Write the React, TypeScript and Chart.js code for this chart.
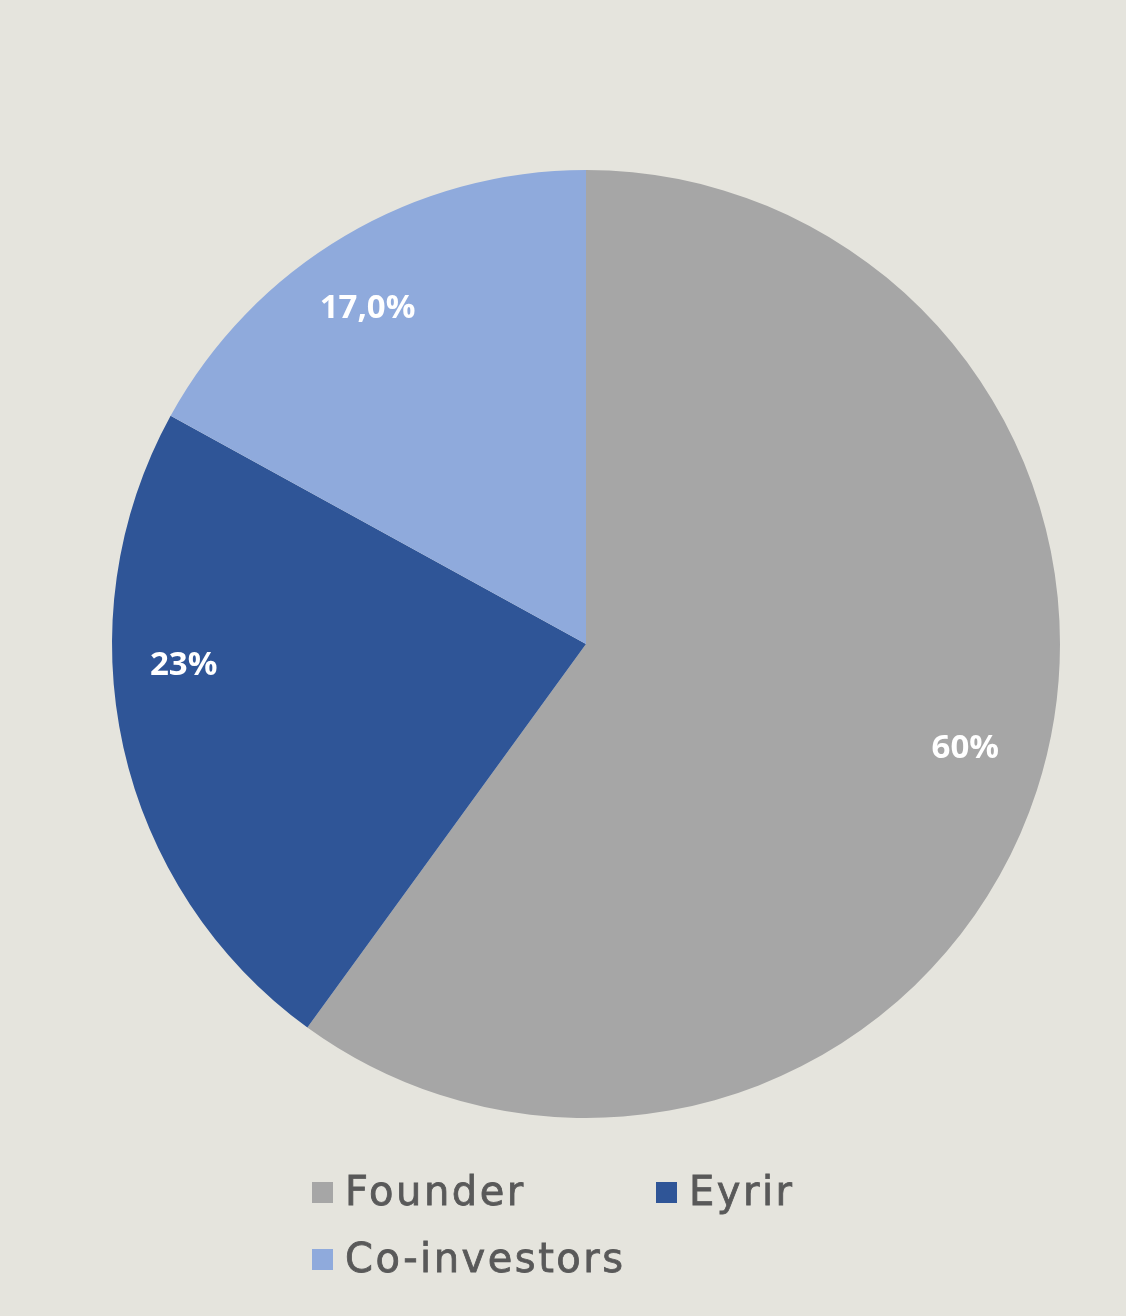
import React, { useEffect, useRef } from "react";
import { Chart, registerables } from "chart.js";

Chart.register(...registerables);

const categories = ["Founder", "Eyrir", "Co-investors"];
const shares = [60, 23, 17];
const valueLabels = ["60%", "23%", "17,0%"];
const sliceColors = ["#A6A6A6", "#2F5597", "#8FAADC"];

const BG = "#E5E4DD";

const labelPlugin = {
  id: "sliceLabels",
  afterDatasetsDraw(chart: any) {
    const ctx = chart.ctx;
    const meta = chart.getDatasetMeta(0);
    const along = [0.488, 0.615, 0.46];
    const radial = [0.83, 0.85, 0.845];
    ctx.save();
    ctx.fillStyle = "#FFFFFF";
    ctx.font = "bold 33px 'Open Sans'";
    ctx.textAlign = "center";
    ctx.textBaseline = "middle";
    meta.data.forEach((arc: any, i: number) => {
      const p = arc.getProps(["x", "y", "startAngle", "endAngle", "outerRadius"], true);
      const a = p.startAngle + along[i] * (p.endAngle - p.startAngle);
      const r = p.outerRadius * radial[i];
      ctx.fillText(valueLabels[i], p.x + Math.cos(a) * r, p.y + Math.sin(a) * r);
    });
    ctx.restore();
  },
};

const legendPlugin = {
  id: "gridLegend",
  afterDraw(chart: any) {
    const ctx = chart.ctx;
    const x0 = 312;
    const colW = 344;
    const rowBase = [1205, 1272];
    const box = 21;
    ctx.save();
    ctx.font = "40px 'DejaVu Sans'";
    (ctx as any).letterSpacing = "2.5px";
    ctx.textBaseline = "alphabetic";
    ctx.textAlign = "left";
    ctx.lineWidth = 0.8;
    categories.forEach((c, i) => {
      const col = i % 2;
      const row = Math.floor(i / 2);
      const x = x0 + col * colW;
      const y = rowBase[row];
      ctx.fillStyle = sliceColors[i];
      ctx.fillRect(x, y - 23, box, box);
      ctx.fillStyle = "#595959";
      ctx.strokeStyle = "#595959";
      ctx.fillText(c, x + 33, y);
      ctx.strokeText(c, x + 33, y);
    });
    ctx.restore();
  },
};

export default function App() {
  const ref = useRef<HTMLCanvasElement>(null);
  useEffect(() => {
    document.body.style.margin = "0";
    const chart = new Chart(ref.current!, {
      type: "pie",
      data: {
        labels: categories,
        datasets: [
          {
            data: shares,
            backgroundColor: sliceColors,
            borderWidth: 0,
          },
        ],
      },
      options: {
        animation: false,
        responsive: false,
        layout: { padding: { left: 112, right: 66, top: 170, bottom: 198 } },
        plugins: {
          legend: { display: false },
          tooltip: { enabled: false },
        },
      },
      plugins: [labelPlugin, legendPlugin],
    });
    return () => chart.destroy();
  }, []);
  return (
    <div style={{ width: 1126, height: 1316, background: BG }}>
      <canvas ref={ref} width={1126} height={1316} style={{ display: "block" }} />
    </div>
  );
}
